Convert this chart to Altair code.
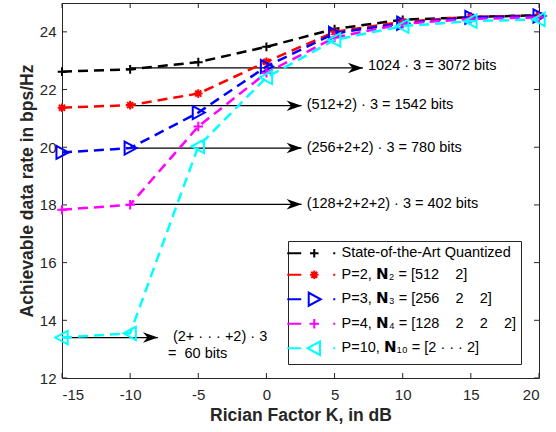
import altair as alt
import pandas as pd

# ---------------- data ----------------
K = [-15, -10, -5, 0, 5, 10, 15, 20]
NB = "\u00a0"
series_names = [
    "State-of-the-Art Quantized",
    "P=2, \U0001D5E1\u2082 = [512" + NB * 4 + "2]",
    "P=3, \U0001D5E1\u2083 = [256" + NB * 4 + "2" + NB * 4 + "2]",
    "P=4, \U0001D5E1\u2084 = [128" + NB * 4 + "2" + NB * 4 + "2" + NB * 4 + "2]",
    "P=10, \U0001D5E1\u2081\u2080 = [2 \u00b7 \u00b7 \u00b7 2]",
]
rate_sota = [22.62, 22.70, 22.95, 23.48, 24.10, 24.42, 24.51, 24.58]
rate_p2 = [21.37, 21.46, 21.86, 22.96, 24.00, 24.35, 24.52, 24.57]
rate_p3 = [19.82, 19.97, 21.20, 22.80, 23.95, 24.30, 24.50, 24.55]
rate_p4 = [17.83, 18.01, 20.72, 22.58, 23.80, 24.28, 24.45, 24.50]
rate_p10 = [13.40, 13.55, 20.03, 22.42, 23.72, 24.20, 24.37, 24.43]
series_values = [rate_sota, rate_p2, rate_p3, rate_p4, rate_p10]

colors = ["#000000", "#FF0000", "#0000FF", "#FF00FF", "#00FFFF"]

x_ticks = [-15, -10, -5, 0, 5, 10, 15, 20]
y_ticks = [12, 14, 16, 18, 20, 22, 24]

arrow_x0 = [-10, -10, -10, -10, -15]
arrow_x1 = [7.08, 2.58, 2.58, 2.58, -7.96]
arrow_y = [22.75, 21.44, 19.97, 18.02, 13.40]

ann_text = [
    "1024 \u00b7 3 = 3072 bits",
    "(512+2) \u00b7 3 = 1542 bits",
    "(256+2+2) \u00b7 3 = 780 bits",
    "(128+2+2+2) \u00b7 3 = 402 bits",
    "(2+ \u00b7 \u00b7 \u00b7 +2) \u00b7 3",
    "=" + NB + NB + "60 bits",
]
ann_x = [7.45, 2.95, 2.95, 2.95, -6.86, -7.22]
ann_y = [22.80, 21.46, 19.99, 18.04, 13.43, 12.83]

# ---------------- tables ----------------
rows = []
for name, vals in zip(series_names, series_values):
    for k, v in zip(K, vals):
        rows.append({"series": name, "K": k, "rate": v})
df = pd.DataFrame(rows)
arrows = pd.DataFrame({"x0": arrow_x0, "x1": arrow_x1, "y": arrow_y})
ann = pd.DataFrame({"x": ann_x, "y": ann_y, "t": ann_text})
xt = pd.DataFrame({"v": x_ticks})
yt = pd.DataFrame({"v": y_ticks})

# ---------------- style ----------------
FONT = "Liberation Sans, Arial, Helvetica, DejaVu Sans, sans-serif"
AX = "#262626"
W, H = 477, 375

xs = alt.Scale(domain=[-15, 20], nice=False, zero=False)
ys = alt.Scale(domain=[12, 25], nice=False, zero=False)
x_axis = alt.Axis(values=x_ticks, title="Rician Factor K, in dB", grid=False,
                  ticks=False, tickSize=0, domain=False, labelPadding=9,
                  labelExpr="datum.value + ''",
                  labelFont=FONT, labelFontSize=15, labelColor=AX,
                  titleFont=FONT, titleFontSize=17.5, titleFontWeight="bold",
                  titleColor=AX, titleY=28, titleBaseline="top")
y_axis = alt.Axis(values=y_ticks, title="Achievable data rate in bps/Hz", grid=False,
                  ticks=False, tickSize=0, domain=False, labelPadding=6,
                  labelFont=FONT, labelFontSize=15, labelColor=AX,
                  titleFont=FONT, titleFontSize=17.5, titleFontWeight="bold",
                  titleColor=AX, titleX=-35, titleY=187.5, titleBaseline="middle",
                  titleAlign="center", titleAngle=270)


def X(f):
    return alt.X(f, type="quantitative", scale=xs, axis=x_axis)


def Y(f):
    return alt.Y(f, type="quantitative", scale=ys, axis=y_axis)


def plus_path(cx, r):
    return f"M{cx - r},0H{cx + r}M{cx},{-r}V{r}"


def star_path(cx, r):
    d = round(r * 0.7, 3)
    return plus_path(cx, r) + f"M{cx - d},{-d}L{cx + d},{d}M{cx - d},{d}L{cx + d},{-d}"


def tri_r_path(cx, r):
    return f"M{cx - 0.85 * r},{-r}L{cx + r},0L{cx - 0.85 * r},{r}Z"


def tri_l_path(cx, r):
    return f"M{cx + 0.85 * r},{-r}L{cx - r},0L{cx + 0.85 * r},{r}Z"


marker_fns = [plus_path, star_path, tri_r_path, plus_path, tri_l_path]
marker_sizes = [75, 75, 170, 90, 180]
legend_r = [0.85, 0.85, 1.3, 0.95, 1.35]
legend_paths = [
    "M-2.6,0H0.2" + fn(2.8, r) + "M6.6,0H7.0" for fn, r in zip(marker_fns, legend_r)
]

layers = []
# inward ticks
layers.append(alt.Chart(xt).mark_rule(color=AX, strokeWidth=1).encode(
    x=X("v"), y=alt.value(H), y2=alt.value(H - 5)))
layers.append(alt.Chart(xt).mark_rule(color=AX, strokeWidth=1).encode(
    x=X("v"), y=alt.value(0), y2=alt.value(5)))
layers.append(alt.Chart(yt).mark_rule(color=AX, strokeWidth=1).encode(
    y=Y("v"), x=alt.value(0), x2=alt.value(5)))
layers.append(alt.Chart(yt).mark_rule(color=AX, strokeWidth=1).encode(
    y=Y("v"), x=alt.value(W), x2=alt.value(W - 5)))

# arrows (under data)
layers.append(alt.Chart(arrows).mark_rule(color="#000000", strokeWidth=1.2).encode(
    x=X("x0"), x2="x1", y=Y("y")))
layers.append(alt.Chart(arrows).mark_point(
    shape="M-2,-0.7L0,0L-2,0.7L-1.4,0Z", filled=True, size=225,
    color="#000000", opacity=1).encode(x=X("x1"), y=Y("y")))

# data series
for name, col, fn, sz in zip(series_names, colors, marker_fns, marker_sizes):
    sub = alt.Chart(df).transform_filter(alt.datum.series == name)
    layers.append(sub.mark_line(color=col, strokeWidth=2.5, strokeDash=[10, 6]).encode(
        x=X("K"), y=Y("rate"), order="K:Q"))
    layers.append(sub.mark_point(shape=fn(0, 1), color=col, filled=False, size=sz,
                                 strokeWidth=2, opacity=1).encode(x=X("K"), y=Y("rate")))

# annotation text
layers.append(alt.Chart(ann).mark_text(align="left", baseline="middle", font=FONT,
                                       fontSize=14.5, color="#000000").encode(
    x=X("x"), y=Y("y"), text="t:N"))

# legend driver (invisible marks, visible legend)
leg = alt.Legend(title=None, orient="none", legendX=226, legendY=238, padding=5,
                 rowPadding=4.5, labelOffset=34, symbolSize=100, symbolStrokeWidth=2,
                 symbolOpacity=1, labelFont=FONT, labelFontSize=14.5,
                 labelColor="#000000", strokeColor=AX, fillColor="white",
                 labelLimit=400)
layers.append(alt.Chart(df).mark_point(filled=False, opacity=0, size=100,
                                       strokeWidth=2).encode(
    x=X("K"), y=Y("rate"),
    color=alt.Color("series:N", scale=alt.Scale(domain=series_names, range=colors),
                    legend=leg),
    shape=alt.Shape("series:N", scale=alt.Scale(domain=series_names, range=legend_paths),
                    legend=leg)))

chart = alt.layer(*layers).properties(
    width=W, height=H,
    autosize=alt.AutoSizeParams(type="none"),
    padding={"left": 62, "top": 3, "right": 17, "bottom": 54},
    background="white",
).configure_view(stroke=AX, strokeWidth=1)

chart.save("out.html", embed_options={"renderer": "svg", "actions": False})
